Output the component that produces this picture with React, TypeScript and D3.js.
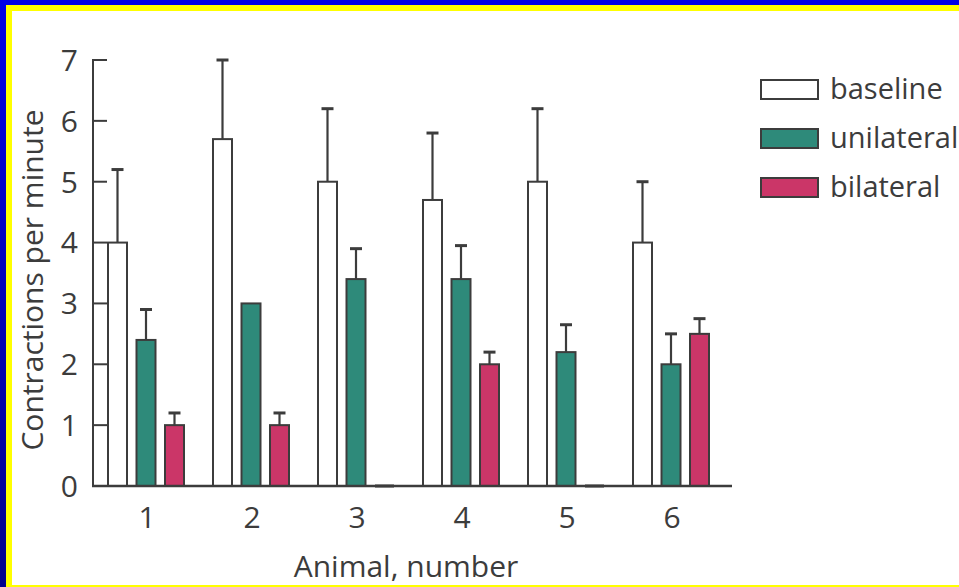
import React from "react";
import * as d3 from "d3";

// Animals and the three recording conditions
const animals = ["1", "2", "3", "4", "5", "6"];
const seriesNames = ["baseline", "unilateral", "bilateral"];
const seriesColors = ["#ffffff", "#2e8a7a", "#cb3668"];

// Mean contractions per minute for each animal
const baselineMeans = [4.0, 5.7, 5.0, 4.7, 5.0, 4.0];
const unilateralMeans = [2.4, 3.0, 3.4, 3.4, 2.2, 2.0];
const bilateralMeans = [1.0, 1.0, 0, 2.0, 0, 2.5];

// Upper error (SD) added on top of each mean
const baselineErr = [1.2, 1.3, 1.2, 1.1, 1.2, 1.0];
const unilateralErr = [0.5, 0, 0.5, 0.55, 0.45, 0.5];
const bilateralErr = [0.2, 0.2, 0, 0.2, 0, 0.25];

const yTicks = [0, 1, 2, 3, 4, 5, 6, 7];

const W = 959;
const H = 587;
const FONT = "'Open Sans', 'Noto Sans', sans-serif";
const INK = "#3c3c3c";

export default function App() {
  const means = [baselineMeans, unilateralMeans, bilateralMeans];
  const errs = [baselineErr, unilateralErr, bilateralErr];

  const axisLeft = 93;
  const axisRight = 732;
  const y = d3.scaleLinear().domain([0, 7]).range([486, 60]);
  const x = d3.scaleBand<string>().domain(animals).range([94.5, 724.5]).padding(0);
  const inner = d3.scalePoint<string>().domain(seriesNames).range([-29.5, 27.5]);
  const barW = 19;
  const capW = 12;
  const center = (a: string) => (x(a) ?? 0) + x.bandwidth() / 2;

  const legendX = 761;
  const legendY = d3.scalePoint<string>().domain(seriesNames).range([80, 178]);

  return (
    <div style={{ position: "fixed", left: 0, top: 0, width: W, height: H }}>
      <svg width={W} height={H} style={{ display: "block", background: "#ffffff" }}>
        <defs>
          <linearGradient id="leftEdge" x1="0" y1="0" x2="0" y2="1">
            <stop offset="0" stopColor="#0000e6" />
            <stop offset="1" stopColor="#00008c" />
          </linearGradient>
        </defs>
        {/* frame */}
        <rect x={0} y={0} width={W} height={5} fill="#0000e6" />
        <rect x={0} y={0} width={6} height={H} fill="url(#leftEdge)" />
        <rect x={6} y={5} width={W - 6} height={6} fill="#ffff00" />
        <rect x={6} y={5} width={6} height={H - 5} fill="#ffff00" />
        <rect x={6} y={585} width={W - 6} height={2} fill="#ffff00" />

        {/* bars */}
        {seriesNames.map((s, si) =>
          animals.map((a, ai) => {
            const v = means[si][ai];
            const cx = center(a) + (inner(s) ?? 0);
            const top = y(v);
            const h = y(0) - top;
            if (v === 0) {
              return (
                <line
                  key={`${s}-${a}`}
                  x1={cx - barW / 2}
                  x2={cx + barW / 2}
                  y1={y(0)}
                  y2={y(0)}
                  stroke="#333"
                  strokeWidth={3}
                />
              );
            }
            return (
              <rect
                key={`${s}-${a}`}
                x={cx - barW / 2}
                y={top}
                width={barW}
                height={h}
                fill={seriesColors[si]}
                stroke={INK}
                strokeWidth={2}
              />
            );
          })
        )}

        {/* upper error bars */}
        {seriesNames.map((s, si) =>
          animals.map((a, ai) => {
            const v = means[si][ai];
            const e = errs[si][ai];
            if (!e || v === 0) return null;
            const cx = center(a) + (inner(s) ?? 0);
            return (
              <g key={`e-${s}-${a}`} stroke={INK}>
                <line x1={cx} x2={cx} y1={y(v)} y2={y(v + e)} strokeWidth={2.2} />
                <line x1={cx - capW / 2} x2={cx + capW / 2} y1={y(v + e)} y2={y(v + e)} strokeWidth={3} />
              </g>
            );
          })
        )}

        {/* y axis with inward ticks */}
        <line x1={axisLeft} x2={axisLeft} y1={y(7) - 1} y2={y(0)} stroke={INK} strokeWidth={2} />
        {yTicks.map((t) => (
          <g key={`yt-${t}`}>
            <line x1={axisLeft} x2={axisLeft + 14} y1={y(t)} y2={y(t)} stroke={INK} strokeWidth={2} />
            <text
              x={78}
              y={y(t)}
              dy="0.36em"
              textAnchor="end"
              fontFamily={FONT}
              fontSize={30}
              fill={INK}
            >
              {t}
            </text>
          </g>
        ))}

        {/* x axis */}
        <line x1={axisLeft - 1} x2={axisRight} y1={y(0)} y2={y(0)} stroke={INK} strokeWidth={2.5} />
        {animals.map((a) => (
          <text
            key={`xt-${a}`}
            x={center(a)}
            y={528}
            textAnchor="middle"
            fontFamily={FONT}
            fontSize={30}
            fill={INK}
          >
            {a}
          </text>
        ))}

        {/* axis titles */}
        <text
          x={406}
          y={577}
          textAnchor="middle"
          fontFamily={FONT}
          fontSize={30}
          fill={INK}
        >
          Animal, number
        </text>
        <text
          transform={`translate(43, 280) rotate(-90)`}
          textAnchor="middle"
          fontFamily={FONT}
          fontSize={30}
          fill={INK}
        >
          Contractions per minute
        </text>

        {/* legend */}
        {seriesNames.map((s, si) => {
          const ly = legendY(s) ?? 0;
          return (
            <g key={`lg-${s}`}>
              <rect
                x={legendX}
                y={ly}
                width={57}
                height={19}
                fill={seriesColors[si]}
                stroke={INK}
                strokeWidth={2}
              />
              <text x={830} y={ly + 19} fontFamily={FONT} fontSize={29} fill={INK}>
                {s}
              </text>
            </g>
          );
        })}
      </svg>
    </div>
  );
}
